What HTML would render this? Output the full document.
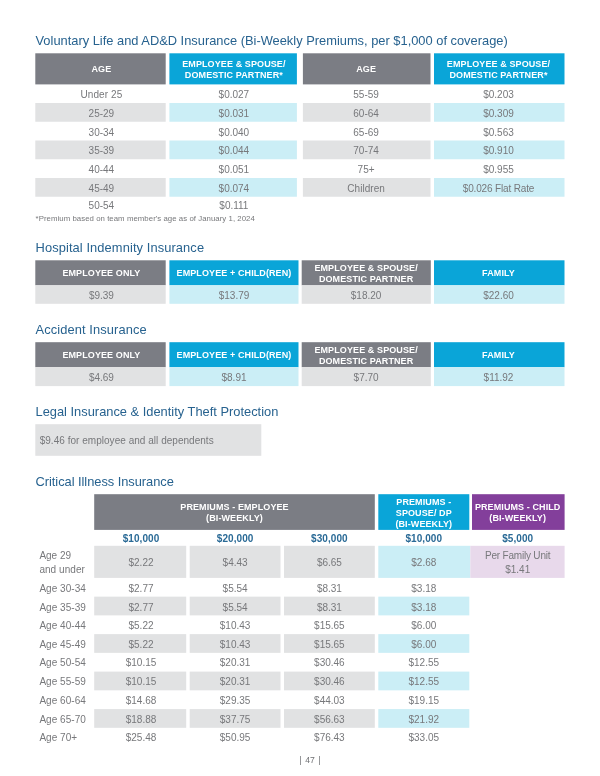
<!DOCTYPE html>
<html lang="en"><head><meta charset="utf-8"><title>Benefits Premiums</title>
<style>
html,body{margin:0;padding:0;background:#fff;}
body{width:600px;height:776px;position:relative;overflow:hidden;font-family:"Liberation Sans",sans-serif;}
.bg{position:absolute;left:0;top:0;}
.x{position:absolute;white-space:nowrap;margin:0;}
.t{font-size:12.87px;line-height:15px;color:#27628f;}
.h{color:#fff;font-weight:700;font-size:9px;line-height:11px;letter-spacing:0.1px;}
.d{color:#77787b;font-size:10px;line-height:12px;}
.s{color:#2a6a96;font-weight:700;font-size:10px;line-height:12px;letter-spacing:0.08px;}
.fn{font-size:7.8px;line-height:9px;color:#77787b;letter-spacing:0.05px;}
.pg{font-size:8.6px;line-height:10px;color:#6f7073;word-spacing:1.1px;}
</style></head>
<body>
<svg class="bg" width="600" height="776" viewBox="0 0 600 776" aria-hidden="true">
<rect x="35.30" y="53.30" width="130.40" height="31.10" fill="#7b7d84"/>
<rect x="169.40" y="53.30" width="127.50" height="31.10" fill="#0aa5d8"/>
<rect x="302.90" y="53.30" width="127.60" height="31.10" fill="#7b7d84"/>
<rect x="434.00" y="53.30" width="130.50" height="31.10" fill="#0aa5d8"/>
<rect x="35.30" y="103.00" width="130.40" height="18.75" fill="#e1e2e3"/>
<rect x="169.40" y="103.00" width="127.50" height="18.75" fill="#cbeef6"/>
<rect x="302.90" y="103.00" width="127.60" height="18.75" fill="#e1e2e3"/>
<rect x="434.00" y="103.00" width="130.50" height="18.75" fill="#cbeef6"/>
<rect x="35.30" y="140.50" width="130.40" height="18.75" fill="#e1e2e3"/>
<rect x="169.40" y="140.50" width="127.50" height="18.75" fill="#cbeef6"/>
<rect x="302.90" y="140.50" width="127.60" height="18.75" fill="#e1e2e3"/>
<rect x="434.00" y="140.50" width="130.50" height="18.75" fill="#cbeef6"/>
<rect x="35.30" y="178.00" width="130.40" height="18.75" fill="#e1e2e3"/>
<rect x="169.40" y="178.00" width="127.50" height="18.75" fill="#cbeef6"/>
<rect x="302.90" y="178.00" width="127.60" height="18.75" fill="#e1e2e3"/>
<rect x="434.00" y="178.00" width="130.50" height="18.75" fill="#cbeef6"/>
<rect x="35.30" y="260.30" width="130.40" height="25.00" fill="#7b7d84"/>
<rect x="35.30" y="285.30" width="130.40" height="18.50" fill="#e1e2e3"/>
<rect x="169.40" y="260.30" width="129.10" height="25.00" fill="#0aa5d8"/>
<rect x="169.40" y="285.30" width="129.10" height="18.50" fill="#cbeef6"/>
<rect x="301.70" y="260.30" width="129.10" height="25.00" fill="#7b7d84"/>
<rect x="301.70" y="285.30" width="129.10" height="18.50" fill="#e1e2e3"/>
<rect x="434.00" y="260.30" width="130.50" height="25.00" fill="#0aa5d8"/>
<rect x="434.00" y="285.30" width="130.50" height="18.50" fill="#cbeef6"/>
<rect x="35.30" y="342.20" width="130.40" height="25.00" fill="#7b7d84"/>
<rect x="35.30" y="367.20" width="130.40" height="18.90" fill="#e1e2e3"/>
<rect x="169.40" y="342.20" width="129.10" height="25.00" fill="#0aa5d8"/>
<rect x="169.40" y="367.20" width="129.10" height="18.90" fill="#cbeef6"/>
<rect x="301.70" y="342.20" width="129.10" height="25.00" fill="#7b7d84"/>
<rect x="301.70" y="367.20" width="129.10" height="18.90" fill="#e1e2e3"/>
<rect x="434.00" y="342.20" width="130.50" height="25.00" fill="#0aa5d8"/>
<rect x="434.00" y="367.20" width="130.50" height="18.90" fill="#cbeef6"/>
<rect x="35.30" y="424.20" width="226.00" height="31.60" fill="#e1e2e3"/>
<rect x="94.20" y="494.20" width="280.60" height="35.70" fill="#7b7d84"/>
<rect x="378.30" y="494.20" width="91.00" height="35.70" fill="#0aa5d8"/>
<rect x="472.00" y="494.20" width="92.60" height="35.70" fill="#833f9b"/>
<rect x="94.20" y="545.80" width="92.00" height="32.10" fill="#e1e2e3"/>
<rect x="189.70" y="545.80" width="90.80" height="32.10" fill="#e1e2e3"/>
<rect x="284.00" y="545.80" width="90.80" height="32.10" fill="#e1e2e3"/>
<rect x="378.30" y="545.80" width="92.00" height="32.10" fill="#cbeef6"/>
<rect x="470.30" y="545.80" width="94.30" height="32.10" fill="#e8d9eb"/>
<rect x="94.20" y="596.64" width="92.00" height="18.74" fill="#e1e2e3"/>
<rect x="189.70" y="596.64" width="90.80" height="18.74" fill="#e1e2e3"/>
<rect x="284.00" y="596.64" width="90.80" height="18.74" fill="#e1e2e3"/>
<rect x="378.30" y="596.64" width="91.00" height="18.74" fill="#cbeef6"/>
<rect x="94.20" y="634.12" width="92.00" height="18.74" fill="#e1e2e3"/>
<rect x="189.70" y="634.12" width="90.80" height="18.74" fill="#e1e2e3"/>
<rect x="284.00" y="634.12" width="90.80" height="18.74" fill="#e1e2e3"/>
<rect x="378.30" y="634.12" width="91.00" height="18.74" fill="#cbeef6"/>
<rect x="94.20" y="671.60" width="92.00" height="18.74" fill="#e1e2e3"/>
<rect x="189.70" y="671.60" width="90.80" height="18.74" fill="#e1e2e3"/>
<rect x="284.00" y="671.60" width="90.80" height="18.74" fill="#e1e2e3"/>
<rect x="378.30" y="671.60" width="91.00" height="18.74" fill="#cbeef6"/>
<rect x="94.20" y="709.08" width="92.00" height="18.74" fill="#e1e2e3"/>
<rect x="189.70" y="709.08" width="90.80" height="18.74" fill="#e1e2e3"/>
<rect x="284.00" y="709.08" width="90.80" height="18.74" fill="#e1e2e3"/>
<rect x="378.30" y="709.08" width="91.00" height="18.74" fill="#cbeef6"/>
</svg>
<!-- Voluntary Life and AD&D -->
<div class="x t" style="left:35.50px;top:33.30px;">Voluntary Life and AD&amp;D Insurance (Bi-Weekly Premiums, per $1,000 of coverage)</div>
<div class="x h" style="left:1.40px;width:200px;top:63.80px;text-align:center;">AGE</div>
<div class="x h" style="left:133.90px;width:200px;top:58.80px;text-align:center;">EMPLOYEE &amp; SPOUSE/</div>
<div class="x h" style="left:133.90px;width:200px;top:69.80px;text-align:center;">DOMESTIC PARTNER*</div>
<div class="x h" style="left:266.10px;width:200px;top:63.80px;text-align:center;">AGE</div>
<div class="x h" style="left:398.50px;width:200px;top:58.80px;text-align:center;">EMPLOYEE &amp; SPOUSE/</div>
<div class="x h" style="left:398.50px;width:200px;top:69.80px;text-align:center;">DOMESTIC PARTNER*</div>
<div class="x d" style="left:1.40px;width:200px;top:88.80px;text-align:center;letter-spacing:0.1px;">Under 25</div>
<div class="x d" style="left:133.90px;width:200px;top:88.80px;text-align:center;">$0.027</div>
<div class="x d" style="left:266.10px;width:200px;top:88.80px;text-align:center;">55-59</div>
<div class="x d" style="left:398.50px;width:200px;top:88.80px;text-align:center;">$0.203</div>
<div class="x d" style="left:1.40px;width:200px;top:107.80px;text-align:center;">25-29</div>
<div class="x d" style="left:133.90px;width:200px;top:107.80px;text-align:center;">$0.031</div>
<div class="x d" style="left:266.10px;width:200px;top:107.80px;text-align:center;">60-64</div>
<div class="x d" style="left:398.50px;width:200px;top:107.80px;text-align:center;">$0.309</div>
<div class="x d" style="left:1.40px;width:200px;top:126.80px;text-align:center;">30-34</div>
<div class="x d" style="left:133.90px;width:200px;top:126.80px;text-align:center;">$0.040</div>
<div class="x d" style="left:266.10px;width:200px;top:126.80px;text-align:center;">65-69</div>
<div class="x d" style="left:398.50px;width:200px;top:126.80px;text-align:center;">$0.563</div>
<div class="x d" style="left:1.40px;width:200px;top:144.80px;text-align:center;">35-39</div>
<div class="x d" style="left:133.90px;width:200px;top:144.80px;text-align:center;">$0.044</div>
<div class="x d" style="left:266.10px;width:200px;top:144.80px;text-align:center;">70-74</div>
<div class="x d" style="left:398.50px;width:200px;top:144.80px;text-align:center;">$0.910</div>
<div class="x d" style="left:1.40px;width:200px;top:163.80px;text-align:center;">40-44</div>
<div class="x d" style="left:133.90px;width:200px;top:163.80px;text-align:center;">$0.051</div>
<div class="x d" style="left:266.10px;width:200px;top:163.80px;text-align:center;">75+</div>
<div class="x d" style="left:398.50px;width:200px;top:163.80px;text-align:center;">$0.955</div>
<div class="x d" style="left:1.40px;width:200px;top:182.80px;text-align:center;">45-49</div>
<div class="x d" style="left:133.90px;width:200px;top:182.80px;text-align:center;">$0.074</div>
<div class="x d" style="left:266.10px;width:200px;top:182.80px;text-align:center;letter-spacing:0.05px;">Children</div>
<div class="x d" style="left:398.50px;width:200px;top:182.80px;text-align:center;letter-spacing:-0.15px;">$0.026 Flat Rate</div>
<div class="x d" style="left:1.40px;width:200px;top:199.80px;text-align:center;">50-54</div>
<div class="x d" style="left:133.90px;width:200px;top:199.80px;text-align:center;">$0.111</div>
<div class="x fn" style="left:35.60px;top:213.90px;">*Premium based on team member's age as of January 1, 2024</div>
<!-- Hospital Indemnity Insurance -->
<div class="x t" style="left:35.50px;top:240.30px;letter-spacing:0.1px;">Hospital Indemnity Insurance</div>
<div class="x h" style="left:1.40px;width:200px;top:267.80px;text-align:center;">EMPLOYEE ONLY</div>
<div class="x d" style="left:1.40px;width:200px;top:289.80px;text-align:center;">$9.39</div>
<div class="x h" style="left:134.00px;width:200px;top:267.80px;text-align:center;">EMPLOYEE + CHILD(REN)</div>
<div class="x d" style="left:134.00px;width:200px;top:289.80px;text-align:center;">$13.79</div>
<div class="x h" style="left:266.10px;width:200px;top:262.80px;text-align:center;">EMPLOYEE &amp; SPOUSE/</div>
<div class="x h" style="left:266.10px;width:200px;top:273.80px;text-align:center;">DOMESTIC PARTNER</div>
<div class="x d" style="left:266.10px;width:200px;top:289.80px;text-align:center;">$18.20</div>
<div class="x h" style="left:398.50px;width:200px;top:267.80px;text-align:center;">FAMILY</div>
<div class="x d" style="left:398.50px;width:200px;top:289.80px;text-align:center;">$22.60</div>
<!-- Accident Insurance -->
<div class="x t" style="left:35.50px;top:322.30px;letter-spacing:0.1px;">Accident Insurance</div>
<div class="x h" style="left:1.40px;width:200px;top:349.80px;text-align:center;">EMPLOYEE ONLY</div>
<div class="x d" style="left:1.40px;width:200px;top:371.80px;text-align:center;">$4.69</div>
<div class="x h" style="left:134.00px;width:200px;top:349.80px;text-align:center;">EMPLOYEE + CHILD(REN)</div>
<div class="x d" style="left:134.00px;width:200px;top:371.80px;text-align:center;">$8.91</div>
<div class="x h" style="left:266.10px;width:200px;top:344.80px;text-align:center;">EMPLOYEE &amp; SPOUSE/</div>
<div class="x h" style="left:266.10px;width:200px;top:355.80px;text-align:center;">DOMESTIC PARTNER</div>
<div class="x d" style="left:266.10px;width:200px;top:371.80px;text-align:center;">$7.70</div>
<div class="x h" style="left:398.50px;width:200px;top:349.80px;text-align:center;">FAMILY</div>
<div class="x d" style="left:398.50px;width:200px;top:371.80px;text-align:center;">$11.92</div>
<!-- Legal -->
<div class="x t" style="left:35.50px;top:404.30px;">Legal Insurance &amp; Identity Theft Protection</div>
<div class="x d" style="left:39.70px;top:434.80px;letter-spacing:0.03px;">$9.46 for employee and all dependents</div>
<!-- Critical Illness -->
<div class="x t" style="left:35.50px;top:474.30px;letter-spacing:-0.04px;">Critical Illness Insurance</div>
<div class="x h" style="left:134.50px;width:200px;top:501.80px;text-align:center;">PREMIUMS - EMPLOYEE</div>
<div class="x h" style="left:134.50px;width:200px;top:512.80px;text-align:center;">(BI-WEEKLY)</div>
<div class="x h" style="left:323.80px;width:200px;top:496.80px;text-align:center;">PREMIUMS -</div>
<div class="x h" style="left:323.80px;width:200px;top:507.80px;text-align:center;">SPOUSE/ DP</div>
<div class="x h" style="left:323.80px;width:200px;top:518.80px;text-align:center;">(BI-WEEKLY)</div>
<div class="x h" style="left:417.70px;width:200px;top:501.80px;text-align:center;">PREMIUMS - CHILD</div>
<div class="x h" style="left:417.70px;width:200px;top:512.80px;text-align:center;">(BI-WEEKLY)</div>
<div class="x s" style="left:41.00px;width:200px;top:532.80px;text-align:center;">$10,000</div>
<div class="x s" style="left:135.10px;width:200px;top:532.80px;text-align:center;">$20,000</div>
<div class="x s" style="left:229.40px;width:200px;top:532.80px;text-align:center;">$30,000</div>
<div class="x s" style="left:323.80px;width:200px;top:532.80px;text-align:center;">$10,000</div>
<div class="x s" style="left:417.70px;width:200px;top:532.80px;text-align:center;">$5,000</div>
<div class="x d" style="left:39.40px;top:549.80px;">Age 29</div>
<div class="x d" style="left:39.40px;top:563.80px;letter-spacing:0.05px;">and under</div>
<div class="x d" style="left:417.70px;width:200px;top:549.80px;text-align:center;letter-spacing:-0.2px;">Per Family Unit</div>
<div class="x d" style="left:417.70px;width:200px;top:563.80px;text-align:center;">$1.41</div>
<div class="x d" style="left:41.00px;width:200px;top:556.80px;text-align:center;">$2.22</div>
<div class="x d" style="left:135.10px;width:200px;top:556.80px;text-align:center;">$4.43</div>
<div class="x d" style="left:229.40px;width:200px;top:556.80px;text-align:center;">$6.65</div>
<div class="x d" style="left:323.80px;width:200px;top:556.80px;text-align:center;">$2.68</div>
<div class="x d" style="left:39.40px;top:582.80px;letter-spacing:0.03px;">Age 30-34</div>
<div class="x d" style="left:41.00px;width:200px;top:582.80px;text-align:center;">$2.77</div>
<div class="x d" style="left:135.10px;width:200px;top:582.80px;text-align:center;">$5.54</div>
<div class="x d" style="left:229.40px;width:200px;top:582.80px;text-align:center;">$8.31</div>
<div class="x d" style="left:323.80px;width:200px;top:582.80px;text-align:center;">$3.18</div>
<div class="x d" style="left:39.40px;top:601.80px;letter-spacing:0.03px;">Age 35-39</div>
<div class="x d" style="left:41.00px;width:200px;top:601.80px;text-align:center;">$2.77</div>
<div class="x d" style="left:135.10px;width:200px;top:601.80px;text-align:center;">$5.54</div>
<div class="x d" style="left:229.40px;width:200px;top:601.80px;text-align:center;">$8.31</div>
<div class="x d" style="left:323.80px;width:200px;top:601.80px;text-align:center;">$3.18</div>
<div class="x d" style="left:39.40px;top:619.80px;letter-spacing:0.03px;">Age 40-44</div>
<div class="x d" style="left:41.00px;width:200px;top:619.80px;text-align:center;">$5.22</div>
<div class="x d" style="left:135.10px;width:200px;top:619.80px;text-align:center;">$10.43</div>
<div class="x d" style="left:229.40px;width:200px;top:619.80px;text-align:center;">$15.65</div>
<div class="x d" style="left:323.80px;width:200px;top:619.80px;text-align:center;">$6.00</div>
<div class="x d" style="left:39.40px;top:638.80px;letter-spacing:0.03px;">Age 45-49</div>
<div class="x d" style="left:41.00px;width:200px;top:638.80px;text-align:center;">$5.22</div>
<div class="x d" style="left:135.10px;width:200px;top:638.80px;text-align:center;">$10.43</div>
<div class="x d" style="left:229.40px;width:200px;top:638.80px;text-align:center;">$15.65</div>
<div class="x d" style="left:323.80px;width:200px;top:638.80px;text-align:center;">$6.00</div>
<div class="x d" style="left:39.40px;top:656.80px;letter-spacing:0.03px;">Age 50-54</div>
<div class="x d" style="left:41.00px;width:200px;top:656.80px;text-align:center;">$10.15</div>
<div class="x d" style="left:135.10px;width:200px;top:656.80px;text-align:center;">$20.31</div>
<div class="x d" style="left:229.40px;width:200px;top:656.80px;text-align:center;">$30.46</div>
<div class="x d" style="left:323.80px;width:200px;top:656.80px;text-align:center;">$12.55</div>
<div class="x d" style="left:39.40px;top:675.80px;letter-spacing:0.03px;">Age 55-59</div>
<div class="x d" style="left:41.00px;width:200px;top:675.80px;text-align:center;">$10.15</div>
<div class="x d" style="left:135.10px;width:200px;top:675.80px;text-align:center;">$20.31</div>
<div class="x d" style="left:229.40px;width:200px;top:675.80px;text-align:center;">$30.46</div>
<div class="x d" style="left:323.80px;width:200px;top:675.80px;text-align:center;">$12.55</div>
<div class="x d" style="left:39.40px;top:694.80px;letter-spacing:0.03px;">Age 60-64</div>
<div class="x d" style="left:41.00px;width:200px;top:694.80px;text-align:center;">$14.68</div>
<div class="x d" style="left:135.10px;width:200px;top:694.80px;text-align:center;">$29.35</div>
<div class="x d" style="left:229.40px;width:200px;top:694.80px;text-align:center;">$44.03</div>
<div class="x d" style="left:323.80px;width:200px;top:694.80px;text-align:center;">$19.15</div>
<div class="x d" style="left:39.40px;top:713.80px;letter-spacing:0.03px;">Age 65-70</div>
<div class="x d" style="left:41.00px;width:200px;top:713.80px;text-align:center;">$18.88</div>
<div class="x d" style="left:135.10px;width:200px;top:713.80px;text-align:center;">$37.75</div>
<div class="x d" style="left:229.40px;width:200px;top:713.80px;text-align:center;">$56.63</div>
<div class="x d" style="left:323.80px;width:200px;top:713.80px;text-align:center;">$21.92</div>
<div class="x d" style="left:39.40px;top:731.80px;letter-spacing:0.03px;">Age 70+</div>
<div class="x d" style="left:41.00px;width:200px;top:731.80px;text-align:center;">$25.48</div>
<div class="x d" style="left:135.10px;width:200px;top:731.80px;text-align:center;">$50.95</div>
<div class="x d" style="left:229.40px;width:200px;top:731.80px;text-align:center;">$76.43</div>
<div class="x d" style="left:323.80px;width:200px;top:731.80px;text-align:center;">$33.05</div>
<!-- Page number -->
<div class="x pg" style="left:210.00px;width:200px;top:754.80px;text-align:center;">| 47 |</div>
</body></html>
